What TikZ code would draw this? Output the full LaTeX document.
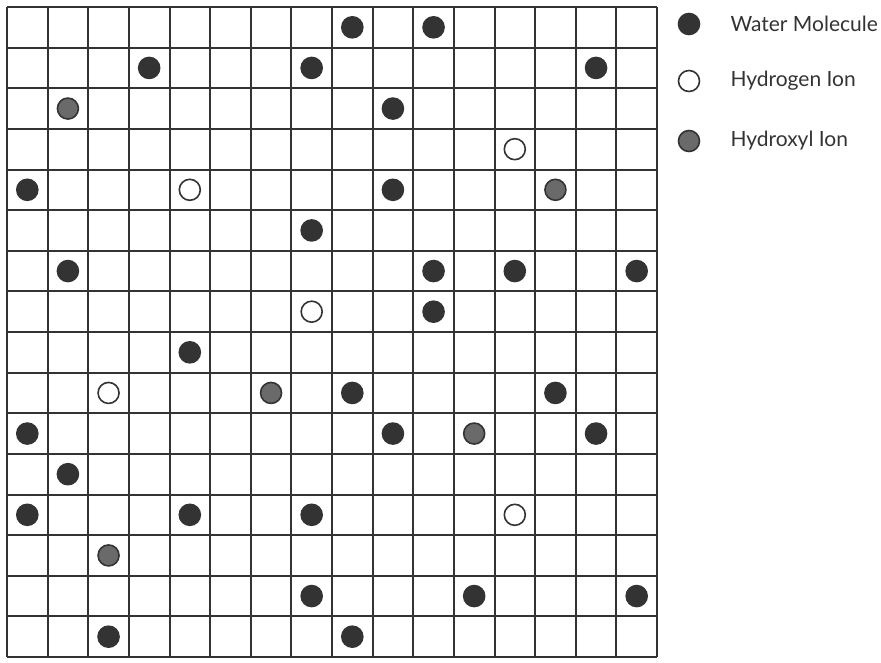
\documentclass[tikz,border=0pt]{standalone}
\usepackage{fontspec}
\setmainfont{Lato}
\usepackage{tikz}
\usetikzlibrary{positioning}
\definecolor{inkgray}{HTML}{333333}
\definecolor{ohgray}{HTML}{6A6A6A}

\tikzset{
  ion/.style={circle, draw=inkgray, line width=1.6pt, minimum size=21pt, inner sep=0pt},
  water/.style={ion, fill=inkgray},
  hydrogen/.style={ion, fill=white},
  hydroxyl/.style={ion, fill=ohgray},
  keytext/.style={font=\fontsize{21}{24}\selectfont, text=inkgray, inner sep=0pt}
}

\begin{document}
\begin{tikzpicture}[x=1pt,y=-1pt]
  \useasboundingbox (0,0) rectangle (881,662);
  % grid
  \foreach \i in {0,...,16} {
    \draw[inkgray, line width=2pt] ({7+40.625*\i},7) -- ({7+40.625*\i},657);
    \draw[inkgray, line width=2pt] (7,{7+40.625*\i}) -- (657,{7+40.625*\i});
  }
  % water molecules (row/column)
  \foreach \r/\c in {0/8,0/10,1/3,1/7,1/14,2/9,4/0,4/9,5/7,6/1,6/10,6/12,6/15,7/10,8/4,9/8,9/13,10/0,10/9,10/14,11/1,12/0,12/4,12/7,14/7,14/11,14/15,15/2,15/8}
    \node[water] (w-\r-\c) at ({27.3+40.625*\c},{27.3+40.625*\r}) {};
  % hydrogen ions
  \foreach \r/\c in {3/12,4/4,7/7,9/2,12/12}
    \node[hydrogen] (h-\r-\c) at ({27.3+40.625*\c},{27.3+40.625*\r}) {};
  % hydroxyl ions
  \foreach \r/\c in {2/1,4/13,9/6,10/11,13/2}
    \node[hydroxyl] (oh-\r-\c) at ({27.3+40.625*\c},{27.3+40.625*\r}) {};
  % key
  \node[water] (keywater) at (689,24) {};
  \node[keytext, right=30pt of keywater] (keywatertext) {Water Molecule};
  \node[hydrogen] (keyhydrogen) at (689,81) {};
  \node[keytext, right=30pt of keyhydrogen] (keyhydrogentext) {Hydrogen Ion};
  \node[hydroxyl] (keyhydroxyl) at (689,141) {};
  \node[keytext, right=30pt of keyhydroxyl] (keyhydroxyltext) {Hydroxyl Ion};
\end{tikzpicture}
\end{document}
